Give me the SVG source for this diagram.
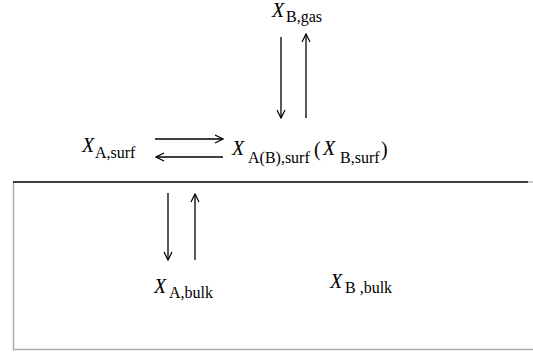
<svg xmlns="http://www.w3.org/2000/svg" width="533" height="354" viewBox="0 0 533 354">
<defs>
<style>
.t{font-family:"Liberation Serif","Times New Roman",serif;fill:#000}
.x{font-style:italic;font-size:20px}
.s{font-size:16px}
.p{font-size:20px}
.c{stroke:#000;stroke-width:1.3;fill:none}
.bx{stroke:#aaa;stroke-width:1.5;fill:none}
</style>
<marker id="ah" viewBox="0 0 10 10" refX="9" refY="5" markerWidth="10" markerHeight="10" markerUnits="userSpaceOnUse" orient="auto">
<path d="M1,1 L9,5 L1,9" fill="none" stroke="#000" stroke-width="1.2"/>
</marker>
</defs>
<rect width="533" height="354" fill="#fff"/>
<g id="box">
<path class="bx" d="M13.5,182 V349.5 H533"/>
<line x1="528" y1="182" x2="533" y2="182" stroke="#bbb" stroke-width="1.5"/>
<line x1="13" y1="182" x2="528" y2="182" stroke="#000" stroke-width="1.5"/>
</g>
<g id="connectors">
<line class="c" x1="281" y1="37" x2="281" y2="118" marker-end="url(#ah)"/>
<line class="c" x1="306" y1="118" x2="306" y2="34" marker-end="url(#ah)" stroke="#222"/>
<line class="c" x1="155" y1="139" x2="223" y2="139" marker-end="url(#ah)"/>
<line class="c" x1="223" y1="157" x2="156" y2="157" marker-end="url(#ah)"/>
<line class="c" x1="168" y1="193" x2="168" y2="260" marker-end="url(#ah)"/>
<line class="c" x1="195" y1="260" x2="195" y2="194" marker-end="url(#ah)" stroke="#222"/>
</g>
<g id="n_Bgas"><text class="t"><tspan class="x" x="272" y="17">X</tspan><tspan class="s" x="286" y="22">B,gas</tspan></text></g>
<g id="n_Asurf"><text class="t"><tspan class="x" x="82" y="152">X</tspan><tspan class="s" x="95" y="158">A,surf</tspan></text></g>
<g id="n_ABsurf"><text class="t"><tspan class="x" x="232" y="155">X</tspan><tspan class="s" x="248" y="163">A(B),surf</tspan><tspan class="p" x="314" y="156">(</tspan><tspan class="x" x="323" y="155">X</tspan><tspan class="s" x="340" y="163">B,surf</tspan><tspan class="p" x="381" y="156">)</tspan></text></g>
<g id="n_Abulk"><text class="t"><tspan class="x" x="154" y="293">X</tspan><tspan class="s" x="169" y="298">A,bulk</tspan></text></g>
<g id="n_Bbulk"><text class="t"><tspan class="x" x="330" y="288">X</tspan><tspan class="s" x="345" y="293">B ,bulk</tspan></text></g>
</svg>
